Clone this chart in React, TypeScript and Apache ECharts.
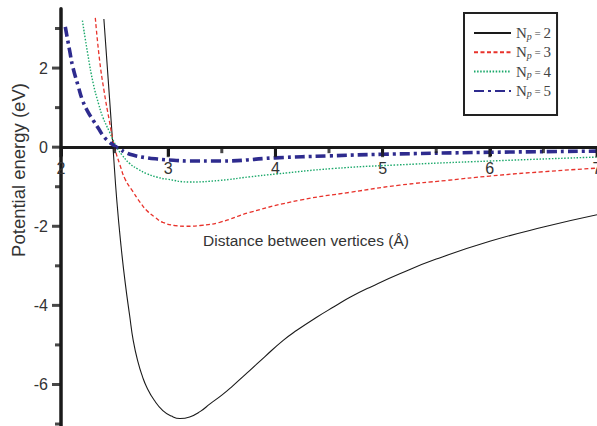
import React, { useEffect, useRef } from "react";
import * as echarts from "echarts";

// Tick values
const xMajorTicks = [2, 3, 4, 5, 6, 7];
const xMinorTicks = [2.5, 3.5, 4.5, 5.5, 6.5];
const yMajorTicks = [-6, -4, -2, 0, 2];
const yMinorTicks = [-7, -5, -3, -1, 1, 3];

// Series names
const seriesNames = ["N_p = 2", "N_p = 3", "N_p = 4", "N_p = 5"];

// Np = 2
const x2 = [2.40, 2.44, 2.485, 2.52, 2.56, 2.60, 2.64, 2.674, 2.72, 2.76, 2.80, 2.87, 2.95, 3.03, 3.11, 3.2, 3.3, 3.39, 3.5, 3.6, 3.76, 3.9, 4.07, 4.2, 4.385, 4.55, 4.70, 4.9, 5.16, 5.5, 6.0, 6.5, 7.0];
const y2 = [3.24, 1.72, 0.0, -1.33, -2.5, -3.45, -4.25, -4.89, -5.45, -5.8, -6.07, -6.4, -6.66, -6.8, -6.86, -6.82, -6.68, -6.49, -6.27, -6.04, -5.65, -5.3, -4.89, -4.63, -4.30, -4.03, -3.79, -3.52, -3.20, -2.83, -2.38, -2.02, -1.71];

// Np = 3
const x3 = [2.32, 2.36, 2.40, 2.45, 2.50, 2.55, 2.60, 2.67, 2.74, 2.80, 2.88, 2.95, 3.06, 3.17, 3.30, 3.48, 3.76, 4.23, 4.70, 5.16, 5.6, 6.0, 6.5, 7.0];
const y3 = [3.27, 2.2, 1.45, 0.68, 0.0, -0.45, -0.82, -1.12, -1.40, -1.6, -1.78, -1.9, -1.98, -2.0, -1.98, -1.9, -1.65, -1.34, -1.14, -0.96, -0.84, -0.73, -0.62, -0.53];

// Np = 4
const x4 = [2.20, 2.25, 2.30, 2.35, 2.39, 2.45, 2.52, 2.57, 2.64, 2.72, 2.80, 2.90, 2.99, 3.2, 3.48, 3.76, 4.0, 4.54, 5.13, 6.0, 7.0];
const y4 = [3.2, 2.35, 1.62, 1.1, 0.76, 0.4, 0.0, -0.2, -0.41, -0.56, -0.67, -0.76, -0.81, -0.88, -0.84, -0.75, -0.68, -0.54, -0.45, -0.35, -0.25];

// Np = 5
const x5 = [2.04, 2.08, 2.11, 2.16, 2.20, 2.25, 2.30, 2.35, 2.39, 2.44, 2.49, 2.55, 2.60, 2.67, 2.78, 2.9, 3.05, 3.2, 3.48, 4.0, 4.5, 5.0, 6.0, 7.0];
const y5 = [3.04, 2.45, 2.03, 1.55, 1.19, 0.9, 0.68, 0.47, 0.3, 0.15, 0.05, -0.05, -0.13, -0.2, -0.26, -0.3, -0.33, -0.35, -0.35, -0.27, -0.22, -0.18, -0.13, -0.1];

const xAxisTitle = "Distance between vertices (Å)";
const yAxisTitle = "Potential energy (eV)";

const pairs = (xs: number[], ys: number[]) => xs.map((x, i) => [x, ys[i]]);

const AXIS_COLOR = "#1a1a1a";
const LABEL_COLOR = "#333";
const SANS = "Liberation Sans, Arial, sans-serif";
const SERIF = "Liberation Serif, Times New Roman, serif";

const X_MIN = 2;
const X_MAX = 7;
const Y_MIN = -7.05;
const Y_MAX = 3.5;
const GRID_TOP = 8.75;
const GRID_H = 426 - GRID_TOP;
// distance (px) from grid bottom to the y = 0 line
const ZERO_FROM_BOTTOM = (GRID_H * (0 - Y_MIN)) / (Y_MAX - Y_MIN);

export default function App() {
  const ref = useRef<HTMLDivElement>(null);

  useEffect(() => {
    if (!ref.current) return;
    const chart = echarts.init(ref.current, undefined, { renderer: "svg" });

    const lineDefs = [
      { name: seriesNames[0], data: pairs(x2, y2), color: "#1a1a1a", width: 1.1, type: "solid" as any },
      { name: seriesNames[1], data: pairs(x3, y3), color: "#e8322b", width: 1.3, type: [4, 2.5] },
      { name: seriesNames[2], data: pairs(x4, y4), color: "#1aa86a", width: 1.4, type: [1.5, 1.6] },
      { name: seriesNames[3], data: pairs(x5, y5), color: "#2e2b8e", width: 3.6, type: [10, 4, 3, 4] },
    ];

    // tick marks drawn as rect symbols placed through the axes' scales
    const tickDefs = [
      { data: xMajorTicks.map((v) => [v, 0]), size: [3, 10], offset: [0, 5] },
      { data: xMinorTicks.map((v) => [v, 0]), size: [3, 6], offset: [0, 3] },
      { data: yMajorTicks.map((v) => [X_MIN, v]), size: [9, 3], offset: [-4.5, 0] },
      { data: yMinorTicks.map((v) => [X_MIN, v]), size: [6, 3], offset: [-3, 0] },
    ];
    const tickSeries = tickDefs.map((t) => ({
      type: "scatter",
      data: t.data,
      symbol: "rect",
      symbolSize: t.size,
      symbolOffset: t.offset,
      itemStyle: { color: AXIS_COLOR },
      z: 10,
    }));

    chart.setOption({
      animation: false,
      grid: { left: 61, right: 0, top: GRID_TOP, bottom: 0, outerBoundsMode: "none" },
      xAxis: {
        type: "value",
        min: X_MIN,
        max: X_MAX,
        interval: 1,
        offset: -ZERO_FROM_BOTTOM,
        axisLine: { show: true, onZero: false, lineStyle: { color: AXIS_COLOR, width: 3 } },
        axisTick: { show: true, length: 9, lineStyle: { color: AXIS_COLOR, width: 3 } },
        axisLabel: {
          margin: 13,
          color: LABEL_COLOR,
          fontSize: 16,
          fontFamily: SANS,
        },
        splitLine: { show: false },
      },
      yAxis: {
        type: "value",
        min: Y_MIN,
        max: Y_MAX,
        axisLine: { show: true, onZero: false, lineStyle: { color: AXIS_COLOR, width: 3.5 } },
        axisTick: { show: false },
        axisLabel: {
          customValues: yMajorTicks,
          margin: 13,
          color: LABEL_COLOR,
          fontSize: 16,
          fontFamily: SANS,
        },
        splitLine: { show: false },
      },
      legend: {
        orient: "vertical",
        left: 464,
        top: 13,
        itemWidth: 37,
        itemHeight: 14,
        itemGap: 3.3,
        padding: [12, 6, 16, 9],
        borderColor: "#222",
        borderWidth: 2,
        backgroundColor: "#fff",
        data: seriesNames,
        itemStyle: { opacity: 0, borderWidth: 0 },
        formatter: (name: string) => {
          const v = name.split("= ")[1];
          return `{n|N}{p|p}{t| = }{v|${v}}`;
        },
        textStyle: {
          color: "#444",
          fontFamily: SERIF,
          fontSize: 15,
          lineHeight: 16,
          rich: {
            n: { fontFamily: SERIF, fontSize: 15, lineHeight: 16, color: "#444" },
            p: { fontFamily: SERIF, fontSize: 10, lineHeight: 10, fontStyle: "italic", color: "#444", padding: [6, 0, 0, 0] },
            t: { fontFamily: SERIF, fontSize: 11, lineHeight: 16, color: "#444" },
            v: { fontFamily: SERIF, fontSize: 15, lineHeight: 16, color: "#444" },
          },
        },
      },
      graphic: [
        {
          type: "text",
          left: 203,
          top: 232,
          style: { text: xAxisTitle, fill: LABEL_COLOR, fontSize: 15.5, fontFamily: SANS },
        },
        {
          type: "text",
          x: 18,
          y: 170,
          rotation: Math.PI / 2,
          style: {
            text: yAxisTitle,
            fill: LABEL_COLOR,
            fontSize: 18.5,
            fontFamily: SANS,
            align: "center",
            verticalAlign: "middle",
          },
        },
      ],
      series: [
        ...lineDefs.map((d) => ({
          type: "line",
          name: d.name,
          data: d.data,
          smooth: 0.5,
          symbol: "none",
          showSymbol: false,
          lineStyle: { color: d.color, width: d.width, type: d.type },
          itemStyle: { color: d.color },
          z: 3,
        })),
        ...tickSeries,
      ],
    });

    return () => chart.dispose();
  }, []);

  return (
    <div
      ref={ref}
      style={{ position: "absolute", left: 0, top: 0, width: 597, height: 426, background: "#fff" }}
    />
  );
}
